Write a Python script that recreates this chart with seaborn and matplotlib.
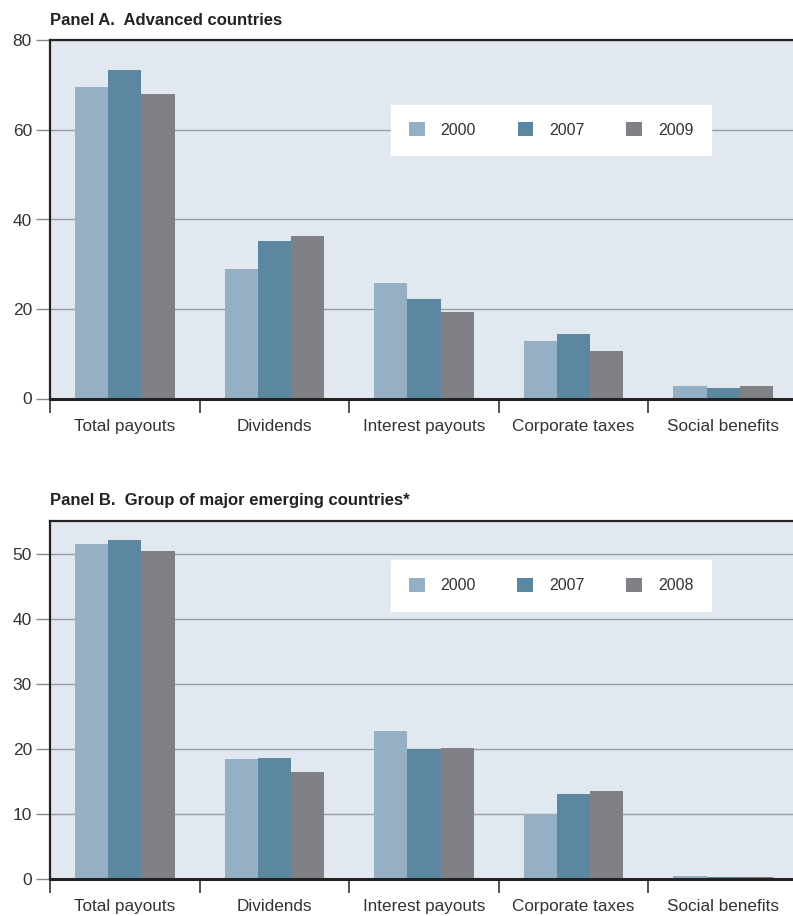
import numpy as np
import pandas as pd
import matplotlib
matplotlib.use("Agg")
import matplotlib.pyplot as plt
import seaborn as sns

# --- DATA ---
categories = ["Total payouts", "Dividends", "Interest payouts", "Corporate taxes", "Social benefits"]
years_a = ["2000", "2007", "2009"]
years_b = ["2000", "2007", "2008"]
panel_a = {
    "2000": [69.6, 28.9, 25.7, 12.8, 2.9],
    "2007": [73.4, 35.2, 22.3, 14.4, 2.4],
    "2009": [68.0, 36.4, 19.3, 10.6, 2.7],
}
panel_b = {
    "2000": [51.5, 18.4, 22.8, 10.1, 0.45],
    "2007": [52.1, 18.6, 20.0, 13.1, 0.3],
    "2008": [50.4, 16.5, 20.1, 13.5, 0.3],
}
title_a = "Panel A.  Advanced countries"
title_b = "Panel B.  Group of major emerging countries*"

colors = ["#95b0c5", "#5b87a1", "#808186"]
BG = "#e1e8f0"
TXT = "#333333"

sns.set_theme(style="white")
plt.rcParams['font.family'] = ['Liberation Sans', 'DejaVu Sans']


def to_long(d, years):
    rows = []
    for y in years:
        for c, v in zip(categories, d[y]):
            rows.append({"cat": c, "year": y, "value": v})
    return pd.DataFrame(rows)


def draw_panel(ax, df, years, ymax, yticks, title, leg_y):
    ax.set_facecolor(BG)
    for t in yticks[1:]:
        ax.axhline(t, color="#9a9ea3", lw=1.0, zorder=0)
    sns.barplot(data=df, x="cat", y="value", hue="year", hue_order=years,
                order=categories, palette=colors, width=2 / 3, ax=ax,
                saturation=1, zorder=2, linewidth=0, legend=True)
    ax.set_xlim(-0.5, 4.5)
    ax.set_ylim(0, ymax)
    ax.set_yticks(yticks)
    ax.set_yticklabels([str(t) for t in yticks], fontsize=12.5, color=TXT)
    ax.set_xticks(range(len(categories)))
    ax.set_xticklabels(categories, fontsize=12.3, color=TXT)
    ax.set_xticks(np.arange(-0.5, 4.5, 1.0), minor=True)
    ax.tick_params(axis="x", which="major", length=0, pad=14.5, bottom=True)
    ax.tick_params(axis="x", which="minor", length=10, width=1.2, color="#333333",
                   direction="out", bottom=True)
    ax.tick_params(axis="y", length=10, width=1.0, color="#888888", direction="out", pad=3, left=True)
    ax.set_xlabel("")
    ax.set_ylabel("")
    ax.spines["right"].set_visible(False)
    ax.spines["bottom"].set_linewidth(2.2)
    ax.spines["bottom"].set_color("#222222")
    ax.spines["left"].set_linewidth(1.6)
    ax.spines["left"].set_color("#222222")
    ax.spines["top"].set_linewidth(1.6)
    ax.spines["top"].set_color("#222222")
    leg = ax.legend(ncol=3, loc="center", bbox_to_anchor=(0.67, leg_y), frameon=True,
                    fontsize=11.5, handlelength=1.0, handleheight=1.0, columnspacing=2.6,
                    handletextpad=1.0, borderpad=1.1, fancybox=False, borderaxespad=0,
                    framealpha=1.0)
    leg.get_frame().set_facecolor("white")
    leg.get_frame().set_edgecolor("white")
    for t in leg.get_texts():
        t.set_color(TXT)
    ax.text(0.0, 1.035, title, transform=ax.transAxes, fontsize=12, fontweight="bold",
            color="#222222", ha="left", va="bottom")


W, H = 793, 916
fig = plt.figure(figsize=(W / 100, H / 100), dpi=100)
fig.patch.set_facecolor("white")

ax_a = fig.add_axes([50 / W, 1 - 398.5 / H, 748 / W, 358 / H])
ax_b = fig.add_axes([50 / W, 1 - 879.3 / H, 748 / W, 358.3 / H])

draw_panel(ax_a, to_long(panel_a, years_a), years_a, 80, [0, 20, 40, 60, 80], title_a, 0.75)
draw_panel(ax_b, to_long(panel_b, years_b), years_b, 55, [0, 10, 20, 30, 40, 50], title_b, 0.82)

fig.savefig("out.png", dpi=100, facecolor="white")
